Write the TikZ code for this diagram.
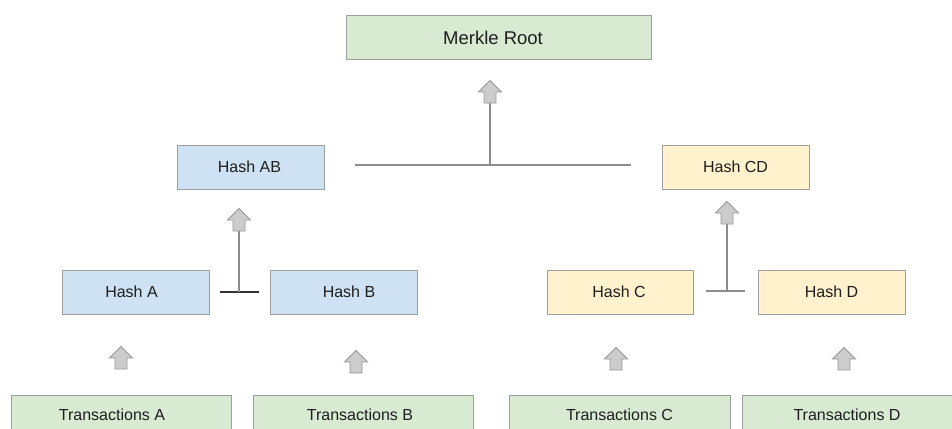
\documentclass[tikz,border=0pt]{standalone}
\usepackage{fontspec}
\setmainfont{Liberation Sans}
\definecolor{gfill}{HTML}{D9EAD3}
\definecolor{bfill}{HTML}{CFE2F3}
\definecolor{yfill}{HTML}{FFF2CC}
\definecolor{bord}{HTML}{9E9E9E}
\definecolor{afill}{HTML}{CCCCCC}
\definecolor{aline}{HTML}{999999}
\definecolor{vline}{HTML}{8C8C8C}
\definecolor{hline}{HTML}{333333}
\definecolor{txt}{HTML}{1E1E1E}
\newcommand\shx[2]{\kern#1\relax#2\kern-#1\relax}
\begin{document}
\begin{tikzpicture}[x=1pt,y=-1pt,
  box/.style={draw=bord,line width=1pt,minimum height=44pt,inner sep=0pt,text=txt,font=\fontsize{16}{18}\selectfont},
  gbox/.style={box,fill=gfill},
  bbox/.style={box,fill=bfill},
  ybox/.style={box,fill=yfill},
  vconn/.style={draw=vline,line width=1.1pt},
  hconn/.style={draw=hline,line width=1.1pt},
  tconn/.style={draw=vline,line width=1.1pt},
  upblock/.pic={\draw[draw=aline,fill=afill,line width=0.9pt,line join=miter]
     (-6,0) -- (-6,-11) -- (-11.5,-11) -- (0,-22.5) -- (11.5,-11) -- (6,-11) -- (6,0) -- cycle;}
]
\useasboundingbox (0,0) rectangle (952,428);
\fill[white] (0,0) rectangle (952,428);

% nodes
\node[gbox,minimum width=305pt,font=\fontsize{18.5}{20}\selectfont] (root) at (498.5,38) {\shx{-5.5pt}{Merkle Root}};
\node[bbox,minimum width=147pt] (hab) at (250.5,167) {\shx{-1pt}{Hash AB}};
\node[ybox,minimum width=147pt] (hcd) at (735.5,167) {Hash CD};
\node[bbox,minimum width=147pt] (ha) at (135.5,292) {\shx{-4pt}{\raisebox{1pt}{Hash A}}};
\node[bbox,minimum width=147pt] (hb) at (343.5,292) {\shx{5.5pt}{\raisebox{-1pt}{Hash B}}};
\node[ybox,minimum width=146pt] (hc) at (620,292) {\shx{-1pt}{Hash C}};
\node[ybox,minimum width=147pt] (hd) at (831.5,292) {Hash D};
\node[gbox,minimum width=220pt] (ta) at (121,417) {\shx{-9pt}{\raisebox{5pt}{Transactions A}}};
\node[gbox,minimum width=220pt] (tb) at (363,417) {\shx{-3pt}{\raisebox{5pt}{Transactions B}}};
\node[gbox,minimum width=221pt] (tc) at (619.5,417) {\raisebox{5pt}{Transactions C}};
\node[gbox,minimum width=220pt] (td) at (852,417) {\shx{-5pt}{\raisebox{5pt}{Transactions D}}};

% junction coordinates
\coordinate (jtopL) at (355,165);
\coordinate (jtopR) at (631,165);
\coordinate (jtop) at (490,165);
\coordinate (atop) at (490,103);
\coordinate (jabL) at (220,292);
\coordinate (jabR) at (259,292);
\coordinate (jab) at (239,292);
\coordinate (aab) at (239,231);
\coordinate (jcdL) at (706,291);
\coordinate (jcdR) at (745,291);
\coordinate (jcd) at (727,291);
\coordinate (acd) at (727,224);

% connectors
\draw[tconn] (jtopL) -- (jtopR);
\draw[vconn] (jtop) -- (atop);
\draw[hconn] (jabL) -- (jabR);
\draw[vconn] (jab) -- (aab);
\draw[tconn] (jcdL) -- (jcdR);
\draw[vconn] (jcd) -- (acd);

% block arrows
\pic at (atop) {upblock};
\pic at (aab) {upblock};
\pic at (acd) {upblock};
\pic at (121,369) {upblock};
\pic at (356,373) {upblock};
\pic at (616,370) {upblock};
\pic at (844,370) {upblock};
\end{tikzpicture}
\end{document}
